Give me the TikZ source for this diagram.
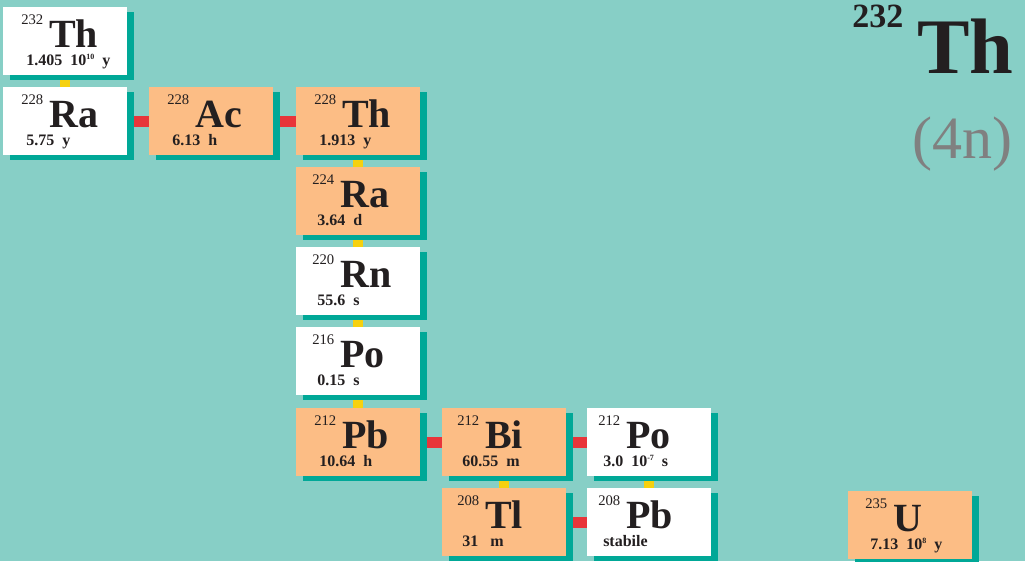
\documentclass[tikz,border=0pt]{standalone}
\usepackage{fontspec}
\setmainfont{Liberation Serif}
\usetikzlibrary{shadows,backgrounds}
\definecolor{sea}{HTML}{87CFC6}
\definecolor{ridge}{HTML}{00A897}
\definecolor{peach}{HTML}{FCBD85}
\definecolor{scarlet}{HTML}{E8353A}
\definecolor{amber}{HTML}{F6D10F}
\definecolor{ink}{HTML}{231F20}
\definecolor{seriesgray}{HTML}{808080}
\newcommand\expo[1]{\raisebox{4pt}{\fontsize{6}{6}\selectfont #1}}
\tikzset{%
nuclide/.style={rectangle,fill=#1,inner sep=0pt,anchor=north west,
  minimum width=93pt,minimum height=51pt,
  drop shadow={shadow xshift=5.25pt,shadow yshift=-3.75pt,opacity=1,fill=ridge}},
mass/.style={anchor=base west,inner sep=0pt,text=ink,text depth=0pt},
halflife/.style={anchor=base west,inner sep=0pt,text=ink,text height=8pt,font=\fontsize{12}{12}\selectfont\bfseries},
alpha link/.style={line width=7.5pt,draw=amber},
beta link/.style={line width=8.25pt,draw=scarlet}
}
\begin{document}
\begin{tikzpicture}[x=0.75pt,y=-0.75pt]
\useasboundingbox (0,0) rectangle (1025,561);
\foreach \nm/\x/\y/\dx/\ms/\el/\hl/\fl in {
  th232/3/7/18/232/Th/{1.405\enspace 10\expo{10}\enspace y}/white,
  ra228/3/87/18/228/Ra/{5.75\enspace y}/white,
  ac228/149/87/18/228/Ac/{6.13\enspace h}/peach,
  th228/296/87/18/228/Th/{1.913\enspace y}/peach,
  ra224/296/167/16/224/Ra/{3.64\enspace d}/peach,
  rn220/296/247/16/220/Rn/{55.6\enspace s}/white,
  po216/296/327/16/216/Po/{0.15\enspace s}/white,
  pb212/296/408/18/212/Pb/{10.64\enspace h}/peach,
  bi212/442/408/15/212/Bi/{60.55\enspace m}/peach,
  po212/587/408/11/212/Po/{3.0\enspace 10\expo{-7}\enspace s}/white,
  tl208/442/488/15/208/Tl/{31\hspace{9pt}m}/peach,
  pb208/587/488/11/208/Pb/{stabile}/white,
  u235/848/491/17/235/U/{7.13\enspace 10\expo{8}\enspace y}/peach}
{
  \node[nuclide=\fl] (\nm) at (\x,\y) {};
  \node[mass] (\nm-m) at (\x+\dx,\y+40)
    {\raisebox{17pt}{\fontsize{11}{11}\selectfont\ms}\hspace{4.5pt}{\fontsize{30}{30}\selectfont\bfseries\el}};
  \node[halflife] (\nm-t) at (\x+\dx+5,\y+58) {\hl};
}
\node[mass,font=\fontsize{25.5}{26}\selectfont\bfseries] (title-m) at (852,27) {232};
\node[mass,font=\fontsize{59}{59}\selectfont\bfseries] (title) at (917,73) {Th};
\node[anchor=base east,inner sep=0pt,text=seriesgray,font=\fontsize{45}{45}\selectfont] (series) at (1013,158) {(4n)};
\begin{pgfonlayer}{background}
\fill[sea] (0,0) rectangle (1025,561);
\foreach \a/\b in {th232/ra228,th228/ra224,ra224/rn220,rn220/po216,po216/pb212,bi212/tl208,po212/pb208}
  \draw[alpha link] (\a) -- (\b);
\foreach \a/\b in {ra228/ac228,ac228/th228,pb212/bi212,bi212/po212,tl208/pb208}
  \draw[beta link] (\a) -- (\b);
\end{pgfonlayer}
\end{tikzpicture}
\end{document}
